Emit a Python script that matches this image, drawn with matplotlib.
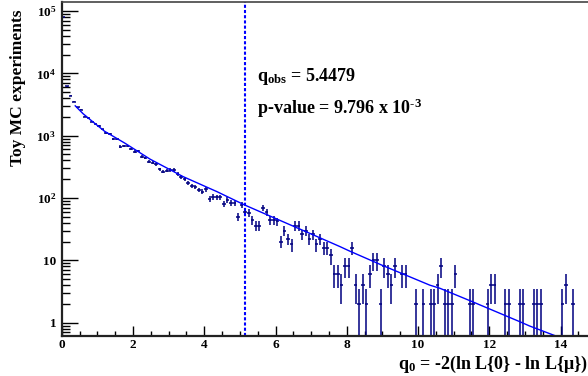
import numpy as np
import matplotlib
matplotlib.use("Agg")
import matplotlib.pyplot as plt
from matplotlib.ticker import FixedLocator, LogLocator, NullFormatter, MultipleLocator

plt.rcParams['font.family'] = ['Liberation Serif', 'DejaVu Serif']
plt.rcParams['font.weight'] = 'bold'
plt.rcParams['mathtext.fontset'] = 'custom'
plt.rcParams['mathtext.rm'] = 'Liberation Serif:bold'
plt.rcParams['mathtext.it'] = 'Liberation Serif:bold'
plt.rcParams['mathtext.bf'] = 'Liberation Serif:bold'
plt.rcParams['mathtext.default'] = 'rm'

# histogram of toy MC q0 values, bins of 0.1 from 0 to 15
bin_width = 0.1
q_min = 0.0
counts = [
    79000, 6150, 4350, 3520, 2870, 2600, 2030, 1950, 1680, 1520,
    1440, 1260, 1100, 1070, 880, 870, 670, 695, 690, 605,
    555, 575, 462, 436, 384, 370, 348, 290, 265, 275,
    282, 282, 244, 216, 200, 177, 156, 152, 135, 127,
    138, 97, 104, 103, 103, 80, 93, 83, 83, 50,
    77, 60, 58, 44, 36, 36, 70, 60, 44, 44,
    42, 20, 30, 22, 18, 36, 36, 26, 30, 22,
    26, 18, 22, 16, 16, 12, 6, 6, 4, 8,
    8, 16, 4, 2, 4, 2, 6, 10, 10, 2,
    8, 6, 4, 8, 0, 6, 6, 0, 0, 2,
    0, 2, 0, 2, 2, 4, 8, 2, 2, 2,
    6, 0, 0, 0, 2, 2, 0, 0, 0, 2,
    4, 4, 0, 0, 2, 2, 0, 0, 2, 2,
    0, 0, 2, 2, 2, 0, 0, 0, 0, 0,
    2, 4, 0, 2, 0, 0, 0, 0, 0, 0,
]

# fitted curve
fit_q = [0.38, 0.6, 0.83, 1.2, 1.77, 2.48, 3.41, 4.35, 5.14, 6.0, 7.0, 7.81,
         8.09, 9.0, 10.33, 10.61, 11.5, 12.85, 13.13, 13.84]
fit_y = [3010, 2250, 1750, 1180, 760, 420, 220, 127, 77, 47, 26.5, 16.6,
         14, 8.3, 4.0, 3.57, 2.2, 1.04, 0.885, 0.62]

q_obs_line = 5.14
q_obs_text = r'$q_{obs}$ = 5.4479'
pval_text = r'p-value = 9.796 x 10$^{\text{-}3}$'

counts = np.array(counts, dtype=float)
centers = q_min + bin_width * (np.arange(len(counts)) + 0.5)
keep = counts > 0

fig = plt.figure(figsize=(5.88, 3.76), dpi=100)
ax = fig.add_axes([61.7 / 588, 40.3 / 376, 534.5 / 588, 334.0 / 376])

ax.errorbar(centers[keep], counts[keep], xerr=bin_width / 2,
            yerr=np.sqrt(counts[keep]), fmt='none', ecolor='#000080',
            elinewidth=1.1, capsize=0)
ax.plot(fit_q, fit_y, color='#0000ff', lw=1.0)
ax.axvline(q_obs_line, color='#0000ff', lw=1.5, dashes=(1.5, 1.0))

ax.set_yscale('log')
ax.set_xlim(0, 15)
ax.set_ylim(0.618, 1.41e5)

ax.xaxis.set_major_locator(MultipleLocator(2))
ax.xaxis.set_minor_locator(MultipleLocator(0.5))
ax.yaxis.set_major_locator(FixedLocator([1, 10, 1e2, 1e3, 1e4, 1e5]))
ax.set_yticklabels(['1', '10', r'10$^{2}$', r'10$^{3}$', r'10$^{4}$', r'10$^{5}$'])
ax.yaxis.set_minor_locator(LogLocator(base=10, subs=np.arange(2, 10), numticks=20))
ax.yaxis.set_minor_formatter(NullFormatter())

ax.tick_params(axis='both', which='both', direction='in', top=False, right=False,
               labelsize=9.5, colors='black')
ax.tick_params(axis='y', which='major', length=11.5, width=1.0, pad=4)
ax.tick_params(axis='y', which='minor', length=6, width=1.0)
ax.tick_params(axis='x', which='major', length=7, width=1.0, pad=2.5)
ax.tick_params(axis='x', which='minor', length=3.6, width=1.0)
for lab in ax.get_xticklabels() + ax.get_yticklabels():
    lab.set_fontweight('bold')

for side in ['left', 'bottom']:
    ax.spines[side].set_linewidth(1.6)
    ax.spines[side].set_color('#222222')
ax.spines['top'].set_linewidth(1.2)
ax.spines['top'].set_color('#444444')

fig.text(18 / 588, (376 - 87.5) / 376, 'Toy MC experiments', rotation=90,
         ha='center', va='center', fontsize=12.5, fontweight='bold')
fig.text(398 / 588, (376 - 368.5) / 376, r'q$_{0}$ = -2(ln L{0} - ln L{μ})',
         ha='left', va='baseline', fontsize=13, fontweight='bold')

fig.text(256.7 / 588, (376 - 80.7) / 376, q_obs_text, ha='left', va='baseline',
         fontsize=13, fontweight='bold')
fig.text(256.7 / 588, (376 - 113.5) / 376, pval_text, ha='left', va='baseline',
         fontsize=13, fontweight='bold')

fig.savefig('out.png', dpi=100)
